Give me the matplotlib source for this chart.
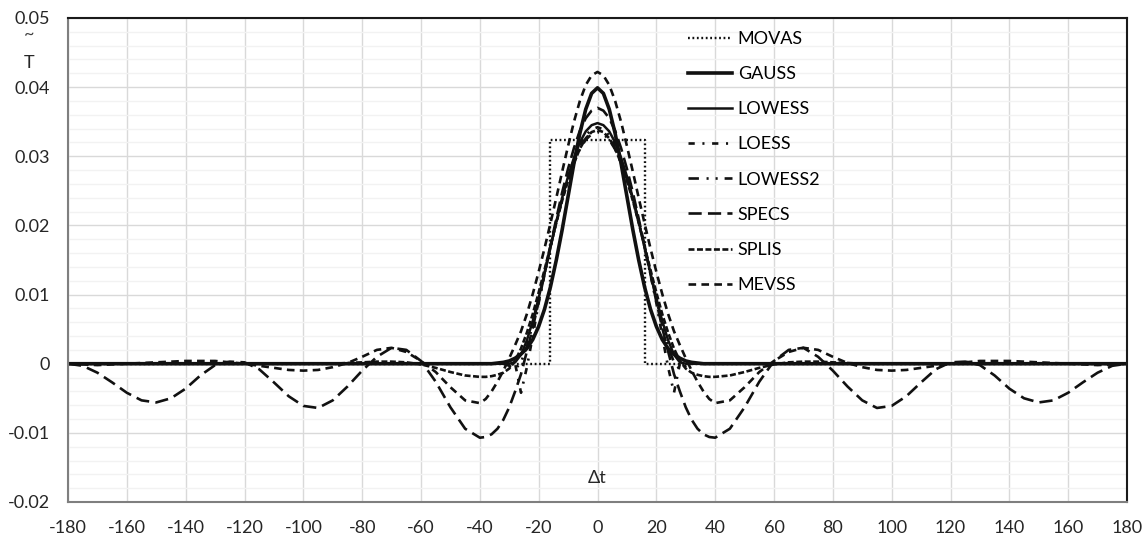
import matplotlib
matplotlib.use('Agg')
import matplotlib.pyplot as plt
import numpy as np

plt.rcParams['font.family'] = ['Lato', 'DejaVu Sans']
plt.rcParams['font.size'] = 13
plt.rcParams['lines.scale_dashes'] = False

# half profiles (x >= 0), mirrored for negative lags
x_half = [0, 2, 4, 6, 8, 10, 12, 14, 16, 18, 20, 22, 24, 26, 28, 30, 32, 34, 36, 38, 40,
          45, 50, 55, 60, 65, 70, 75, 80, 85, 90, 95, 100, 105, 110, 115, 120, 125, 130,
          135, 140, 145, 150, 155, 160, 165, 170, 175, 180]

gauss = [0.0399, 0.0391, 0.0368, 0.0333, 0.0290, 0.0242, 0.0194, 0.0150, 0.0111, 0.0079,
         0.0054, 0.0035, 0.0022, 0.0014, 0.0008, 0.0004, 0.0002, 0.0001, 0, 0, 0] + [0] * 28

lowess = [0.0348, 0.0345, 0.0336, 0.0320, 0.0298, 0.0271, 0.0240, 0.0205, 0.0168, 0.0131,
          0.0095, 0.0062, 0.0034, 0.0013, 0.0002, 0, 0, 0, 0, 0, 0] + [0] * 28

loess = [0.0342, 0.0339, 0.0330, 0.0315, 0.0295, 0.0270, 0.0240, 0.0206, 0.0169, 0.0129,
         0.0088, 0.0040, -0.0005, -0.0042, 0, 0, 0, 0, 0, 0, 0] + [0] * 28

lowess2 = [0.0335, 0.0332, 0.0324, 0.0310, 0.0291, 0.0267, 0.0238, 0.0205, 0.0169, 0.0131,
           0.0093, 0.0057, 0.0025, 0.0002, -0.0008, -0.0003, 0, 0, 0, 0, 0] + [0] * 28

specs = [0.0370, 0.0366, 0.0355, 0.0337, 0.0312, 0.0282, 0.0248, 0.0210, 0.0170, 0.0130,
         0.0090, 0.0052, 0.0018, -0.0015, -0.0040, -0.0063, -0.0081, -0.0094, -0.0102, -0.0106,
         -0.0107, -0.0094, -0.0063, -0.0026, 0.0004, 0.0020, 0.0023, 0.0010, -0.0010, -0.0033,
         -0.0053, -0.0064, -0.0061, -0.0047, -0.0027, -0.0008, 0.0002, 0.0003, -0.0002, -0.0017,
         -0.0036, -0.0050, -0.0056, -0.0053, -0.0042, -0.0027, -0.0013, -0.0003, 0.0]

splis = [0.0338, 0.0335, 0.0326, 0.0311, 0.0290, 0.0265, 0.0236, 0.0204, 0.0170, 0.0136,
         0.0103, 0.0072, 0.0045, 0.0022, 0.0004, -0.0007, -0.0013, -0.0016, -0.0018, -0.0019,
         -0.0019, -0.0017, -0.0012, -0.0006, -0.0001, 0.0002, 0.0003, 0.0003, 0.0002, 0.0001] + [0] * 19

mevss = [0.0422, 0.0417, 0.0403, 0.0380, 0.0350, 0.0315, 0.0278, 0.0240, 0.0203, 0.0167,
         0.0133, 0.0101, 0.0072, 0.0047, 0.0027, 0.0008, -0.0010, -0.0026, -0.0040, -0.0051,
         -0.0057, -0.0053, -0.0034, -0.0012, 0.0004, 0.0017, 0.0023, 0.0020, 0.0010, 0.0001,
         -0.0005, -0.0009, -0.0010, -0.0009, -0.0006, -0.0003, 0.0000, 0.0002, 0.0004, 0.0004,
         0.0004, 0.0003, 0.0002, 0.0001, 0.0000, -0.0001, -0.0002, -0.0001, 0.0]

movas_x = [-180, -16, -16, 16, 16, 180]
movas_y = [0, 0, 0.0323, 0.0323, 0, 0]

x_ticks = list(range(-180, 181, 20))
x_labels = [str(v) for v in x_ticks]
y_ticks = [0.05, 0.04, 0.03, 0.02, 0.01, 0, -0.01, -0.02]
y_labels = ['0.05', '0.04', '0.03', '0.02', '0.01', '0', '-0.01', '-0.02']


def mirror(vals):
    xh = np.array(x_half, dtype=float)
    v = np.array(vals, dtype=float)
    return np.concatenate([-xh[::-1], xh[1:]]), np.concatenate([v[::-1], v[1:]])


fig = plt.figure(figsize=(11.47, 5.38), dpi=100)
ax = fig.add_axes([68 / 1147, 1 - 502 / 538, (1127 - 68) / 1147, (502 - 18) / 538])

series = [
    ('MOVAS', None, dict(lw=1.7, ls=(0, (1.3, 1.9)))),
    ('GAUSS', gauss, dict(lw=2.6, ls='-')),
    ('LOWESS', lowess, dict(lw=1.8, ls='-')),
    ('LOESS', loess, dict(lw=1.9, ls=(0, (4.5, 5.5, 1.5, 5.5)))),
    ('LOWESS2', lowess2, dict(lw=1.9, ls=(0, (7.5, 5.5, 1.5, 5.0, 1.5, 5.0)))),
    ('SPECS', specs, dict(lw=1.9, ls=(0, (9.5, 4.5)))),
    ('SPLIS', splis, dict(lw=1.9, ls=(0, (4.3, 1.8)))),
    ('MEVSS', mevss, dict(lw=1.9, ls=(0, (5.5, 3.8)))),
]

for name, vals, style in series:
    if vals is None:
        xs, ys = movas_x, movas_y
    else:
        xs, ys = mirror(vals)
    ax.plot(xs, ys, color='#111111', label=name, **style)

ax.set_xlim(-180, 180)
ax.set_ylim(-0.02, 0.05)
ax.set_xticks(x_ticks)
ax.set_xticklabels(x_labels)
ax.set_yticks(y_ticks)
ax.set_yticklabels(y_labels)
ax.set_yticks(np.arange(-0.02, 0.0501, 0.002), minor=True)
ax.tick_params(axis='both', length=0, labelsize=13, colors='#262626')
ax.tick_params(axis='x', pad=13)
ax.tick_params(axis='y', pad=13)
ax.tick_params(which='minor', length=0)
ax.grid(True, which='major', color='#d9d9d9', lw=1.0)
ax.grid(True, which='minor', axis='y', color='#f2f2f2', lw=1.0)
ax.set_axisbelow(True)

for s in ['left', 'bottom']:
    ax.spines[s].set_color('#7f7f7f')
    ax.spines[s].set_linewidth(1.5)
for s in ['top', 'right']:
    ax.spines[s].set_color('#1a1a1a')
    ax.spines[s].set_linewidth(1.5)

fig.text(29 / 1147, 1 - 34 / 538, '~', ha='center', va='center', fontsize=13, color='#404040')
fig.text(29 / 1147, 1 - 63 / 538, 'T', ha='center', va='center', fontsize=13, color='#262626')
ax.text(0.5, 0.05, 'Δt', transform=ax.transAxes, ha='center', va='center', fontsize=13, color='#262626')

ax.legend(loc='upper left', bbox_to_anchor=(688 / 1147, 1 - 31 / 538), bbox_transform=fig.transFigure,
          frameon=False, borderpad=0, borderaxespad=0, handlelength=2.45, handletextpad=0.3,
          labelspacing=1.06, fontsize=13)

fig.savefig('out.png', dpi=100)
